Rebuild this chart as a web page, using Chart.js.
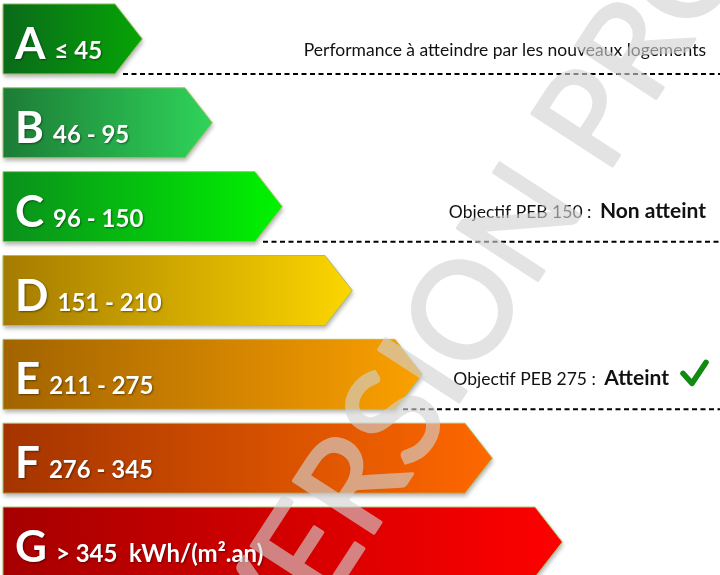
<!DOCTYPE html>
<html>
<head>
<meta charset="utf-8">
<script src="https://cdn.jsdelivr.net/npm/chart.js@4.4.1/dist/chart.umd.min.js"></script>
<style>
    html, body { margin: 0; padding: 0; background: #fff; overflow: hidden; width: 720px; height: 575px; }
    #wrap { position: absolute; left: 0; top: -3px; width: 720px; height: 587px; }
</style>
</head>
<body>
<div id="wrap"><canvas id="myChart" width="720" height="587"></canvas></div>
<script>
// energy classes, top to bottom
const classes = ['A', 'B', 'C', 'D', 'E', 'F', 'G'];
const ranges = ['≤ 45', '46 - 95', '96 - 150', '151 - 210', '211 - 275', '276 - 345', '> 345  kWh/(m².an)'];
// arrow length of each class (arbitrary units)
const barLengths = [16, 26, 36, 46, 56, 66, 76];
const colorsLeft = ['#0a6a1a', '#1c7c36', '#0a8f1c', '#a57b00', '#a26400', '#a43400', '#a50000'];
const colorsRight = ['#06a406', '#2fd45a', '#00f400', '#fcd600', '#fba000', '#ff6800', '#ff0000'];

// notes drawn above the dashed lines
const noteClasses = ['A', 'C', 'E'];
const noteTexts = ['Performance à atteindre par les nouveaux logements', 'Objectif PEB 150 : ', 'Objectif PEB 275 : '];
const noteResults = ['', 'Non atteint', 'Atteint'];
const noteReached = [null, false, true];

const watermark = 'VERSION PROVISOIRE';

const energyLabel = {
    id: 'energyLabel',
    afterDatasetsDraw(chart) {
        const ctx = chart.ctx;
        const meta = chart.getDatasetMeta(0);
        meta.data.forEach((bar, i) => {
            const { x, y, base, height } = bar.getProps(['x', 'y', 'base', 'height'], true);
            const top = y - height / 2;
            const bottom = y + height / 2;
            const tip = height * 0.39;

            ctx.save();
            ctx.beginPath();
            ctx.moveTo(base, top);
            ctx.lineTo(x, top);
            ctx.lineTo(x + tip, y);
            ctx.lineTo(x, bottom);
            ctx.lineTo(base, bottom);
            ctx.closePath();
            const grad = ctx.createLinearGradient(base, 0, x + tip, 0);
            grad.addColorStop(0, colorsLeft[i]);
            grad.addColorStop(1, colorsRight[i]);
            ctx.fillStyle = grad;
            ctx.shadowColor = 'rgba(0,0,0,0.3)';
            ctx.shadowBlur = 4;
            ctx.shadowOffsetX = 1;
            ctx.shadowOffsetY = 3;
            ctx.fill();
            ctx.shadowColor = 'rgba(0,0,0,0)';
            ctx.strokeStyle = '#a8c060';
            ctx.lineWidth = 1;
            ctx.stroke();

            // class letter + range
            ctx.fillStyle = '#fff';
            ctx.textBaseline = 'alphabetic';
            ctx.shadowColor = 'rgba(0,0,0,0.45)';
            ctx.shadowBlur = 2;
            ctx.shadowOffsetX = 1;
            ctx.shadowOffsetY = 1;
            ctx.font = 'bold 44px Lato';
            const lx = base + 12;
            ctx.fillText(classes[i], lx, y + 20);
            const lw = ctx.measureText(classes[i]).width;
            ctx.font = 'bold 24px Lato';
            ctx.fillText(ranges[i], lx + lw + 9, y + 20);
            ctx.restore();
        });

        // dashed lines and notes
        noteClasses.forEach((cls, n) => {
            const bar = meta.data[classes.indexOf(cls)];
            const { x, y, height } = bar.getProps(['x', 'y', 'height'], true);
            const bottom = y + height / 2;
            const right = chart.width;
            ctx.save();
            ctx.strokeStyle = '#000';
            ctx.lineWidth = 2;
            ctx.setLineDash([5, 3.5]);
            ctx.beginPath();
            ctx.moveTo(x + 8, bottom);
            ctx.lineTo(right, bottom);
            ctx.stroke();
            ctx.setLineDash([]);

            ctx.fillStyle = '#111';
            ctx.textAlign = 'right';
            ctx.textBaseline = 'alphabetic';
            let end = 706;
            if (noteReached[n] === null) {
                ctx.font = '17.5px Lato';
                ctx.fillText(noteTexts[n], end, bottom - 18);
            } else {
                const base = bottom - 24;
                if (noteReached[n]) {
                    // green tick
                    ctx.strokeStyle = '#108a10';
                    ctx.lineWidth = 5.5;
                    ctx.lineCap = 'round';
                    ctx.lineJoin = 'round';
                    ctx.beginPath();
                    ctx.moveTo(end - 23, base - 12);
                    ctx.lineTo(end - 14, base - 2);
                    ctx.lineTo(end, base - 23);
                    ctx.stroke();
                    end -= 37;
                }
                ctx.font = 'bold 21px Lato';
                ctx.fillText(noteResults[n], end, base);
                const bw = ctx.measureText(noteResults[n]).width;
                ctx.font = '17.5px Lato';
                ctx.fillText(noteTexts[n], end - bw - 4, base);
            }
            ctx.restore();
        });
    },
    afterDraw(chart) {
        // watermark: drawn opaque on a layer, then blended at once
        const layer = document.createElement('canvas');
        layer.width = chart.width;
        layer.height = chart.height;
        const lc = layer.getContext('2d');
        lc.font = '134px Lato';
        const before = lc.measureText('VERS').width;
        const iw = lc.measureText('I').width;
        const capH = lc.measureText('I').actualBoundingBoxAscent;
        lc.translate(422, 373);
        lc.rotate(-57 * Math.PI / 180);
        lc.fillStyle = 'rgb(210,210,210)';
        lc.strokeStyle = 'rgb(210,210,210)';
        lc.lineWidth = 3;
        lc.lineJoin = 'round';
        lc.textBaseline = 'alphabetic';
        lc.fillText(watermark, -(before + iw / 2), capH / 2);
        lc.strokeText(watermark, -(before + iw / 2), capH / 2);

        const ctx = chart.ctx;
        ctx.save();
        ctx.globalAlpha = 0.62;
        ctx.drawImage(layer, 0, 0);
        ctx.restore();
    }
};

const ctx = document.getElementById('myChart').getContext('2d');
const myChart = new Chart(ctx, {
    type: 'bar',
    data: {
        labels: classes,
        datasets: [{
            data: barLengths,
            backgroundColor: 'rgba(0,0,0,0)',
            borderWidth: 0,
            barPercentage: 0.835,
            categoryPercentage: 1
        }]
    },
    options: {
        indexAxis: 'y',
        responsive: false,
        animation: false,
        layout: { padding: { left: 3, right: 3, top: 0, bottom: 0 } },
        plugins: {
            legend: { display: false },
            tooltip: { enabled: false }
        },
        scales: {
            x: { display: false, min: 0, max: 102 },
            y: { display: false }
        }
    },
    plugins: [energyLabel]
});
</script>
</body>
</html>
